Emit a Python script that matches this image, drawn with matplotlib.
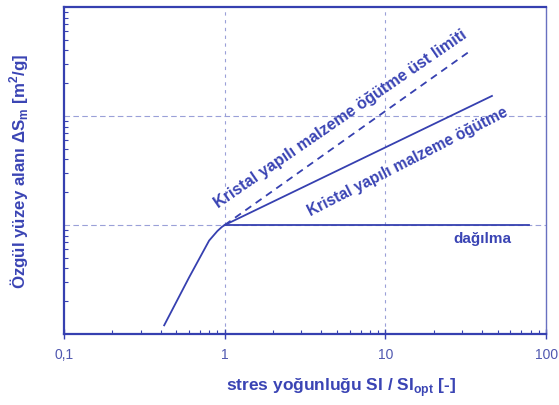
import matplotlib
matplotlib.use("Agg")
import matplotlib.pyplot as plt
import numpy as np

plt.rcParams['font.family'] = ['Liberation Sans', 'DejaVu Sans']

# data (log-log axes)
rise_x = [0.42, 0.6, 0.8, 0.9, 0.96, 1.0]
rise_y = [0.12, 0.33, 0.72, 0.88, 0.96, 1.0]
disp_x = [1.0, 78.0]
disp_y = [1.0, 1.0]
crys_x = [1.0, 46.0]
crys_y = [1.0, 15.3]
upper_x = [1.0, 34.0]
upper_y = [1.0, 40.0]
xticks = [0.1, 1, 10, 100]
xticklabels = ["0,1", "1", "10", "100"]

BLUE = "#3640b0"
TXT = "#3a44b4"
GRID = "#9aa0d8"

fig = plt.figure(figsize=(5.59, 4.06), dpi=100)
ax = fig.add_axes([0.1145, 0.175, 0.8625, 0.805])
ax.set_xscale('log')
ax.set_yscale('log')
ax.set_xlim(0.1, 100)
ax.set_ylim(0.1, 100)

ax.plot(rise_x, rise_y, color=BLUE, lw=1.3)
ax.plot(disp_x, disp_y, color=BLUE, lw=1.3)
ax.plot(crys_x, crys_y, color=BLUE, lw=1.3)
ax.plot(upper_x, upper_y, color=BLUE, lw=1.3, ls=(0, (4, 3)))

for gx in [1, 10]:
    ax.axvline(gx, color=GRID, lw=0.8, ls=(0, (3, 4)), zorder=0)
for gy in [1, 10]:
    ax.axhline(gy, color=GRID, lw=0.8, ls=(0, (5, 3)), zorder=0)

ax.set_xticks(xticks)
ax.set_xticklabels(xticklabels)
ax.set_yticks([])
ax.set_yticks([v * d for d in [0.1, 1, 10] for v in range(2, 10)], minor=True)
ax.set_yticklabels([], minor=True)
ax.tick_params(axis='x', which='major', direction='inout', length=7, width=1.0,
               colors=BLUE, labelcolor="#5058b0", labelsize=10, pad=6)
ax.tick_params(axis='x', which='minor', direction='in', length=3, width=0.8, colors=BLUE)
ax.tick_params(axis='y', which='minor', direction='in', length=3, width=0.8, colors=BLUE)

for s in ['left', 'bottom', 'top']:
    ax.spines[s].set_color(BLUE)
    ax.spines[s].set_linewidth(1.6)
ax.spines['right'].set_color("#6870c0")
ax.spines['right'].set_linewidth(1.0)

ax.set_xlabel("stres yoğunluğu SI / SI$_{\\mathregular{opt}}$ [-]", color=TXT,
              fontsize=12.5, fontweight='bold')
ax.xaxis.set_label_coords(0.575, -0.125)
ax.set_ylabel("Özgül yüzey alanı ΔS$_{\\mathregular{m}}$ [m$^{\\mathregular{2}}$/g]", color=TXT,
              fontsize=12.2, fontweight='bold')
ax.yaxis.set_label_coords(-0.068, 0.5)

ax.text(0.93, 1.38, "Kristal yapılı malzeme öğütme üst limiti", rotation=34.5,
        rotation_mode='anchor', ha='left', va='bottom', color=TXT,
        fontsize=11.6, fontweight='bold')
ax.text(3.15, 1.55, "Kristal yapılı malzeme öğütme", rotation=27,
        rotation_mode='anchor', ha='left', va='top', color=TXT,
        fontsize=11.2, fontweight='bold')
ax.text(26.5, 0.76, "dağılma", ha='left', va='center', color=TXT,
        fontsize=11, fontweight='bold')

fig.savefig("out.png", dpi=100)
